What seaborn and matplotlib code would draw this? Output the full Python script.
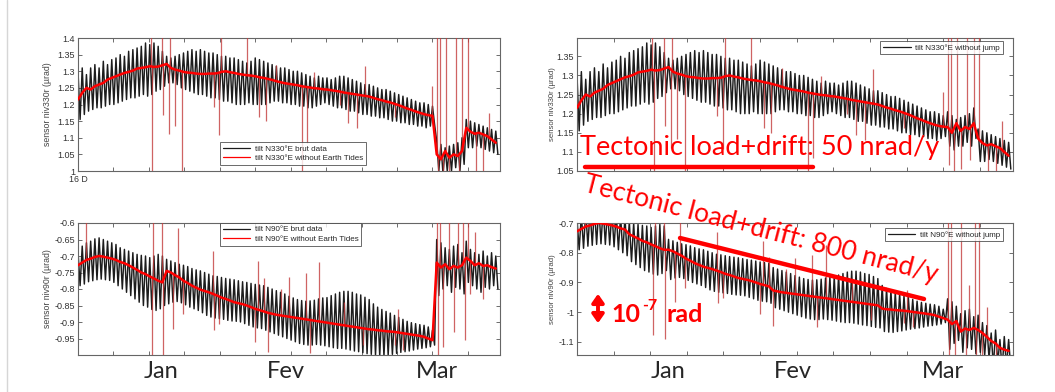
import numpy as np
import pandas as pd
import matplotlib
matplotlib.use('Agg')
import matplotlib.pyplot as plt
import seaborn as sns

sns.set_theme(style='white')
plt.rcParams['font.family'] = ['Liberation Sans', 'DejaVu Sans']

# one tidal cycle per index, starting 16 Dec
n330_high = [1.30, 1.31, 1.29, 1.31, 1.32, 1.31, 1.33, 1.32, 1.335, 1.34,
             1.35, 1.345, 1.36, 1.365, 1.37, 1.375, 1.385, 1.38, 1.385, 1.375,
             1.36, 1.345, 1.34, 1.345, 1.35, 1.355, 1.36, 1.365, 1.36, 1.365,
             1.36, 1.355, 1.355, 1.35, 1.345, 1.345, 1.34, 1.34, 1.335, 1.33,
             1.325, 1.33, 1.34, 1.335, 1.33, 1.325, 1.32, 1.315, 1.31, 1.31,
             1.305, 1.30, 1.30, 1.295, 1.29, 1.285, 1.28, 1.285, 1.28, 1.28,
             1.275, 1.28, 1.285, 1.285, 1.28, 1.275, 1.27, 1.265, 1.26, 1.26,
             1.255, 1.25, 1.245, 1.245, 1.24, 1.235, 1.23, 1.225, 1.22, 1.215,
             1.21, 1.205, 1.205, 1.20, 1.195, 1.09, 1.08, 1.07, 1.075, 1.08,
             1.085, 1.10, 1.155, 1.15, 1.145, 1.14, 1.135, 1.13, 1.125, 1.12]
n330_low = [1.155, 1.17, 1.18, 1.185, 1.19, 1.19, 1.195, 1.20, 1.20, 1.205,
            1.21, 1.215, 1.22, 1.22, 1.225, 1.23, 1.225, 1.23, 1.24, 1.245,
            1.255, 1.265, 1.265, 1.26, 1.25, 1.245, 1.24, 1.235, 1.23, 1.23,
            1.225, 1.22, 1.22, 1.215, 1.21, 1.21, 1.205, 1.20, 1.20, 1.20,
            1.205, 1.20, 1.20, 1.20, 1.20, 1.205, 1.21, 1.21, 1.205, 1.205,
            1.20, 1.20, 1.195, 1.195, 1.19, 1.19, 1.195, 1.20, 1.205, 1.20,
            1.195, 1.19, 1.19, 1.185, 1.18, 1.18, 1.175, 1.17, 1.17, 1.165,
            1.165, 1.16, 1.16, 1.155, 1.15, 1.15, 1.145, 1.145, 1.14, 1.14,
            1.135, 1.135, 1.13, 1.135, 1.14, 1.00, 0.99, 1.00, 1.00, 1.01,
            1.00, 1.02, 1.07, 1.07, 1.075, 1.07, 1.065, 1.06, 1.055, 1.05]
n330_notide = [1.215, 1.235, 1.25, 1.245, 1.255, 1.26, 1.265, 1.275, 1.28, 1.285,
               1.29, 1.295, 1.298, 1.302, 1.308, 1.31, 1.312, 1.315, 1.313, 1.314,
               1.318, 1.322, 1.31, 1.305, 1.302, 1.298, 1.296, 1.295, 1.293, 1.292,
               1.292, 1.293, 1.293, 1.294, 1.298, 1.30, 1.297, 1.295, 1.292, 1.29,
               1.288, 1.287, 1.285, 1.282, 1.28, 1.277, 1.274, 1.27, 1.267, 1.264,
               1.262, 1.26, 1.258, 1.255, 1.253, 1.251, 1.249, 1.248, 1.246, 1.245,
               1.243, 1.241, 1.239, 1.236, 1.234, 1.232, 1.23, 1.228, 1.226, 1.224,
               1.22, 1.216, 1.213, 1.209, 1.206, 1.202, 1.198, 1.193, 1.188, 1.184,
               1.179, 1.175, 1.171, 1.168, 1.166, 1.05, 1.035, 1.06, 1.04, 1.05,
               1.045, 1.06, 1.13, 1.118, 1.112, 1.115, 1.11, 1.105, 1.095, 1.085]
# (cycle, step) of the jumps removed in the "without jump" record
n330_jumps = [(85, -0.115), (92, 0.11)]
# (cycle, excursion from the no-tide curve)
n330_spikes = [(17.3, 0.3), (17.6, -0.35), (19.9, 0.3), (20.2, -0.15), (21.6, -0.2),
               (21.9, 0.3), (23.0, -0.17), (24.7, -0.35), (32.2, -0.10), (33.5, -0.19),
               (34.0, 0.3), (40.0, 0.3), (42.8, -0.12), (44.5, -0.13), (47.0, 0.05),
               (53.0, -0.3), (54.2, -0.17), (56.0, 0.05), (62.0, -0.04), (64.0, -0.09),
               (66.0, -0.10), (68.0, 0.09), (75.0, -0.04), (84.0, 0.09), (85.0, 0.4),
               (85.4, -0.1), (85.8, 0.4), (86.5, -0.1), (87.2, 0.4), (88.0, -0.1),
               (89.5, 0.4), (90.2, -0.08), (91.0, 0.4), (92.3, 0.4), (94.3, -0.2),
               (96.0, -0.2), (97.5, 0.08)]

n90_high = [-0.686, -0.67, -0.66, -0.655, -0.648, -0.645, -0.65, -0.655, -0.66, -0.665,
            -0.675, -0.68, -0.685, -0.69, -0.695, -0.698, -0.70, -0.705, -0.70, -0.695,
            -0.70, -0.71, -0.715, -0.72, -0.725, -0.728, -0.732, -0.738, -0.742, -0.745,
            -0.75, -0.755, -0.76, -0.762, -0.765, -0.768, -0.77, -0.772, -0.775, -0.778,
            -0.78, -0.783, -0.786, -0.788, -0.79, -0.795, -0.80, -0.805, -0.81, -0.815,
            -0.822, -0.827, -0.832, -0.835, -0.837, -0.836, -0.834, -0.83, -0.827, -0.826,
            -0.82, -0.815, -0.81, -0.807, -0.807, -0.81, -0.815, -0.818, -0.825, -0.832,
            -0.845, -0.855, -0.862, -0.868, -0.873, -0.88, -0.886, -0.892, -0.898, -0.902,
            -0.905, -0.908, -0.91, -0.915, -0.925, -0.65, -0.66, -0.675, -0.68, -0.67,
            -0.665, -0.69, -0.655, -0.68, -0.69, -0.695, -0.685, -0.70, -0.69, -0.70]
n90_low = [-0.79, -0.785, -0.778, -0.775, -0.772, -0.77, -0.772, -0.774, -0.78, -0.79,
           -0.80, -0.81, -0.82, -0.83, -0.84, -0.85, -0.855, -0.862, -0.865, -0.86,
           -0.85, -0.845, -0.84, -0.838, -0.842, -0.848, -0.855, -0.86, -0.865, -0.872,
           -0.88, -0.885, -0.888, -0.89, -0.892, -0.895, -0.897, -0.898, -0.90, -0.905,
           -0.91, -0.915, -0.918, -0.92, -0.925, -0.93, -0.935, -0.94, -0.945, -0.95,
           -0.955, -0.96, -0.965, -0.968, -0.97, -0.97, -0.968, -0.97, -0.972, -0.975,
           -0.978, -0.98, -0.98, -0.982, -0.985, -0.988, -0.99, -0.993, -0.996, -0.998,
           -1.0, -1.002, -1.003, -1.0, -0.998, -0.995, -0.992, -0.99, -0.988, -0.985,
           -0.982, -0.98, -0.978, -0.975, -0.97, -0.82, -0.80, -0.79, -0.81, -0.795,
           -0.80, -0.815, -0.78, -0.79, -0.80, -0.81, -0.795, -0.80, -0.79, -0.80]
n90_notide = [-0.728, -0.72, -0.712, -0.708, -0.703, -0.70, -0.702, -0.705, -0.708, -0.712,
              -0.718, -0.722, -0.728, -0.735, -0.742, -0.75, -0.755, -0.762, -0.768, -0.775,
              -0.78, -0.745, -0.75, -0.758, -0.765, -0.775, -0.782, -0.79, -0.796, -0.802,
              -0.806, -0.81, -0.815, -0.82, -0.826, -0.83, -0.835, -0.84, -0.843, -0.846,
              -0.85, -0.855, -0.86, -0.864, -0.868, -0.872, -0.875, -0.878, -0.88, -0.882,
              -0.884, -0.886, -0.888, -0.89, -0.892, -0.894, -0.896, -0.898, -0.90, -0.902,
              -0.904, -0.906, -0.908, -0.91, -0.912, -0.914, -0.916, -0.918, -0.92, -0.922,
              -0.923, -0.925, -0.926, -0.928, -0.929, -0.93, -0.932, -0.934, -0.936, -0.938,
              -0.94, -0.942, -0.945, -0.95, -0.955, -0.72, -0.735, -0.725, -0.74, -0.73,
              -0.735, -0.728, -0.705, -0.715, -0.728, -0.722, -0.73, -0.728, -0.734, -0.738]
n90_jumps = [(12, 0.01), (21, 0.035), (45, 0.01), (70, 0.01), (85, 0.24),
             (88, 0.02), (92, 0.03), (95, 0.02), (97, 0.017)]
n90_spikes = [(1.9, 0.13), (17.5, -0.3), (17.8, 0.17), (19.9, 0.3), (20.2, -0.3),
              (22.4, -0.17), (23.6, 0.15), (24.8, -0.1), (32.0, 0.13), (32.3, -0.11),
              (33.5, -0.08), (42.0, -0.1), (42.6, 0.15), (44.0, 0.1), (45.0, -0.12),
              (48.0, 0.08), (50.0, 0.12), (54.0, 0.14), (55.0, -0.1), (57.0, 0.18),
              (63.0, 0.07), (67.5, -0.05), (75.0, -0.04), (75.8, 0.07), (77.0, -0.05),
              (85.0, 0.4), (85.3, -0.3), (85.8, 0.4), (86.6, -0.25), (88.0, 0.4),
              (89.2, -0.2), (90.0, 0.15), (91.2, 0.4), (91.6, -0.25), (92.3, 0.4),
              (93.0, -0.1), (94.0, 0.1), (96.0, -0.1)]

W, H = 1055, 392
fig = plt.figure(figsize=(W / 100, H / 100), dpi=100)
fig.patch.set_facecolor('white')


def box(x0, y0, x1, y1):
    return [x0 / W, 1 - y1 / H, (x1 - x0) / W, (y1 - y0) / H]


def panel(rect, high, low, notide, spikes, jumps, remove_jumps, ylim, yticks,
          hide_ticklabels, ylabel, labels, legend_kw, lab_fs, lab_x):
    ax = fig.add_axes(rect)
    n = len(high)
    cyc = np.arange(n)
    corr = np.zeros(n)
    if remove_jumps:
        for c, step in jumps:
            corr[c:] += step
    hi = np.array(high) - corr
    lo = np.array(low) - corr
    red = np.array(notide) - corr
    tide = pd.DataFrame({'cycle': np.concatenate([cyc, cyc + 0.5]),
                         'tilt': np.concatenate([hi, lo])}).sort_values('cycle')
    sns.lineplot(data=tide, x='cycle', y='tilt', ax=ax, color='#1c1c1c', lw=1.05,
                 estimator=None, label=labels[0])
    sx = np.array([s[0] for s in spikes])
    sd = np.array([s[1] for s in spikes])
    base = red[np.clip(np.round(sx).astype(int), 0, n - 1)]
    ax.vlines(sx, base, base + sd, color='#c43c3c', lw=0.9, alpha=0.8, zorder=3)
    sns.lineplot(x=cyc, y=red, ax=ax, color='#ff0000', lw=1.8, estimator=None,
                 label=labels[1], zorder=4)
    ax.set_xlim(0, 100)
    ax.set_ylim(*ylim)
    ax.set_xticks(np.arange(0, 100, 8.4))
    ax.set_xticklabels([])
    ax.set_yticks(yticks)
    ax.set_yticklabels(['' if v in hide_ticklabels else f'{v:g}' for v in yticks],
                       fontsize=6.5, color='#333333')
    ax.tick_params(direction='in', length=3, width=0.6, color='#555555',
                   top=True, right=True, bottom=True, left=True, pad=2)
    for sp in ax.spines.values():
        sp.set_color('#666666')
        sp.set_linewidth(0.8)
    ax.set_xlabel('')
    ax.set_ylabel('')
    fig.text(lab_x / W, rect[1] + rect[3] / 2, ylabel, rotation=90, fontsize=lab_fs,
             color='#444444', ha='center', va='center')
    handles, names = ax.get_legend_handles_labels()
    keep = [(h, t) for h, t in zip(handles, names) if t and not t.startswith('_')]
    leg = ax.legend([k[0] for k in keep], [k[1] for k in keep], fontsize=5.8,
                    frameon=True, fancybox=False, handlelength=3.4,
                    borderpad=0.35, labelspacing=0.25, handletextpad=0.6,
                    borderaxespad=0, **legend_kw)
    leg.get_frame().set_edgecolor('#444444')
    leg.get_frame().set_linewidth(0.7)
    for line in leg.get_lines():
        line.set_linewidth(0.9)
    return ax


ax_tl = panel(box(78, 38, 500, 171), n330_high, n330_low, n330_notide, n330_spikes,
              n330_jumps, False, (1.0, 1.4), np.round(np.arange(1.0, 1.401, 0.05), 2), [],
              'sensor niv330r (\u00b5rad)',
              ['tilt N330\u00b0E brut data', 'tilt N330\u00b0E without Earth Tides'],
              dict(loc='lower left', bbox_to_anchor=(0.336, 0.045)), 6.3, 48)
ax_bl = panel(box(78, 223, 500, 355), n90_high, n90_low, n90_notide, n90_spikes,
              n90_jumps, False, (-1.0, -0.6), np.round(np.arange(-1.0, -0.599, 0.05), 2), [-1.0],
              'sensor niv90r (\u00b5rad)',
              ['tilt N90\u00b0E brut data', 'tilt N90\u00b0E without Earth Tides'],
              dict(loc='upper left', bbox_to_anchor=(0.336, 1.0)), 6.3, 48)
ax_tr = panel(box(577, 38, 1013, 171), n330_high, n330_low, n330_notide, n330_spikes,
              n330_jumps, True, (1.05, 1.398), np.round(np.arange(1.05, 1.351, 0.05), 2), [],
              'sensor niv330r (\u00b5rad)',
              ['tilt N330\u00b0E without jump', None],
              dict(loc='upper right', bbox_to_anchor=(0.977, 0.977)), 5.6, 552)
ax_br = panel(box(577, 223, 1013, 355), n90_high, n90_low, n90_notide, n90_spikes,
              n90_jumps, True, (-1.144, -0.7), [-1.1, -1.0, -0.9, -0.8, -0.7], [],
              'sensor niv90r (\u00b5rad)',
              ['tilt N90\u00b0E without jump', None],
              dict(loc='upper right', bbox_to_anchor=(0.977, 0.962)), 5.6, 552)

ax_tl.text(0, -0.03, '16 D', transform=ax_tl.transAxes, ha='center', va='top',
           fontsize=6.3, color='#333333')

# month labels
for x, m in [(161, 'Jan'), (286, 'Fev'), (437, 'Mar'), (668, 'Jan'), (793, 'Fev'), (943, 'Mar')]:
    fig.text(x / W, 1 - 371 / H, m, fontsize=17, family='Lato', ha='center', va='center')

# slide annotations
red = '#ff0000'
fig.text(580 / W, 1 - 155 / H, 'Tectonic load+drift: 50 nrad/y', color=red, fontsize=19.5,
         family='Lato', ha='left', va='baseline')
fig.add_artist(plt.Line2D([585 / W, 813 / W], [1 - 167 / H, 1 - 167 / H], color=red, lw=3.2))
fig.text(761 / W, 1 - 230 / H, 'Tectonic load+drift: 800 nrad/y', color=red, fontsize=19,
         family='Lato', ha='center', va='center', rotation=-14.5, rotation_mode='anchor')
fig.add_artist(plt.Line2D([680 / W, 924 / W], [1 - 238 / H, 1 - 299 / H], color=red, lw=3.2))
fig.text(611 / W, 1 - 322 / H, '10', color=red, fontsize=18, family='Lato', weight='bold',
         ha='left', va='baseline')
fig.text(642 / W, 1 - 310 / H, '-7', color=red, fontsize=11.5, family='Lato', weight='bold',
         ha='left', va='baseline')
fig.text(667 / W, 1 - 322 / H, 'rad', color=red, fontsize=18, family='Lato', weight='bold',
         ha='left', va='baseline')
fig.add_artist(matplotlib.patches.FancyArrowPatch(
    (598 / W, 1 - 291 / H), (598 / W, 1 - 326 / H), transform=fig.transFigure,
    arrowstyle='<|-|>,head_length=5,head_width=3.5', color=red, lw=2.8, mutation_scale=1))

# slide border
fig.add_artist(plt.Line2D([7 / W, 7 / W], [0, 1], color='#d6d6d6', lw=1))

fig.savefig('out.png', dpi=100, facecolor='white')
